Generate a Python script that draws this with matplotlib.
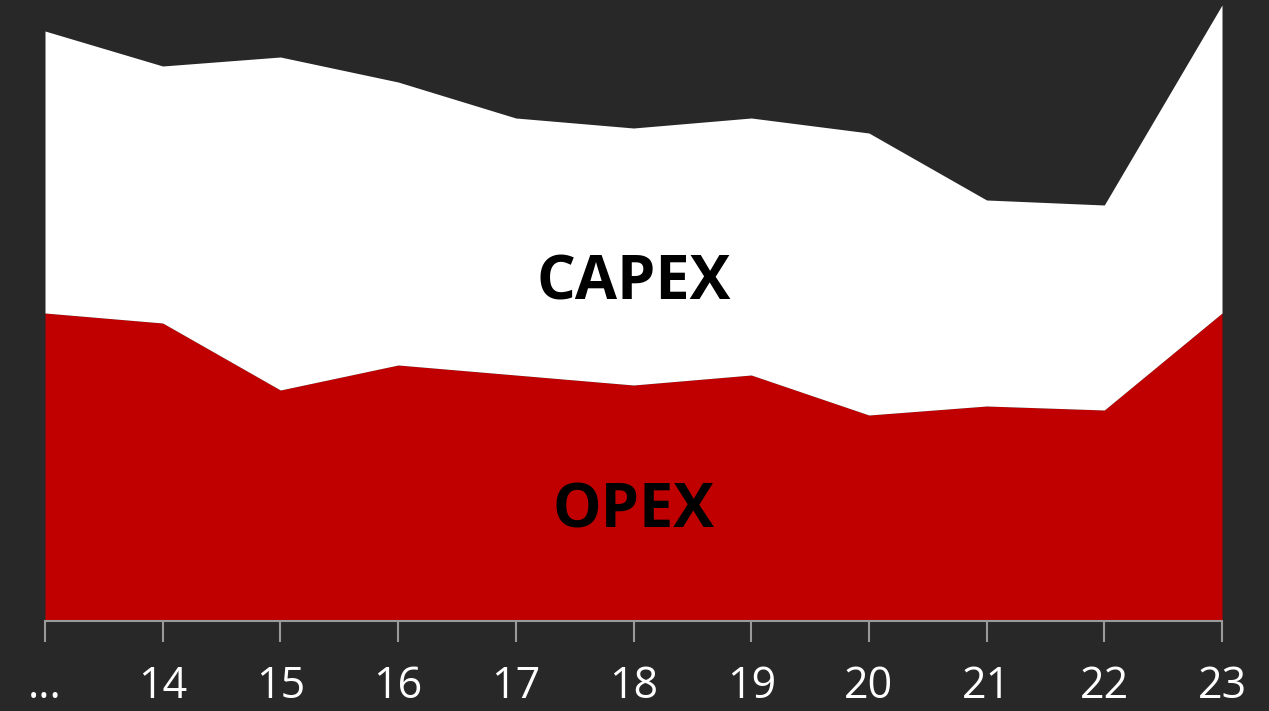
import matplotlib
matplotlib.use("Agg")
import matplotlib.pyplot as plt

labels = ["...", "14", "15", "16", "17", "18", "19", "20", "21", "22", "23"]
opex = [308, 298, 231, 256, 246, 236, 246, 206, 215, 211, 308]
capex = [282, 257, 333, 283, 257, 257, 257, 282, 206, 205, 308]

W, H = 1269, 711
fig = plt.figure(figsize=(W / 100, H / 100), dpi=100)
fig.patch.set_facecolor("#282828")
ax = fig.add_axes([45 / W, (H - 621) / H, (1222 - 45) / W, 621 / H])
ax.set_facecolor("none")

x = list(range(len(labels)))
total = [o + c for o, c in zip(opex, capex)]
ax.fill_between(x, 0, opex, color="#c00000", linewidth=0)
ax.fill_between(x, opex, total, color="#ffffff", linewidth=0)

ax.set_xlim(0, len(labels) - 1)
ax.set_ylim(0, 621)
for s in ["top", "right", "left"]:
    ax.spines[s].set_visible(False)
ax.spines["bottom"].set_color("#9a9a9a")
ax.spines["bottom"].set_linewidth(1.5)
ax.set_yticks([])
ax.set_xticks(x)
ax.set_xticklabels(labels, fontsize=31, color="white", family="Open Sans")
ax.tick_params(axis="x", length=15, width=1.5, color="#9a9a9a", pad=16)

mid = (len(labels) - 1) / 2
ax.text(mid, 621 - 284, "CAPEX", ha="center", va="center", fontsize=44,
        fontweight="bold", color="black", family="Open Sans")
ax.text(mid, 621 - 512, "OPEX", ha="center", va="center", fontsize=44,
        fontweight="bold", color="black", family="Open Sans")

fig.savefig("out.png", dpi=100, facecolor=fig.get_facecolor())
